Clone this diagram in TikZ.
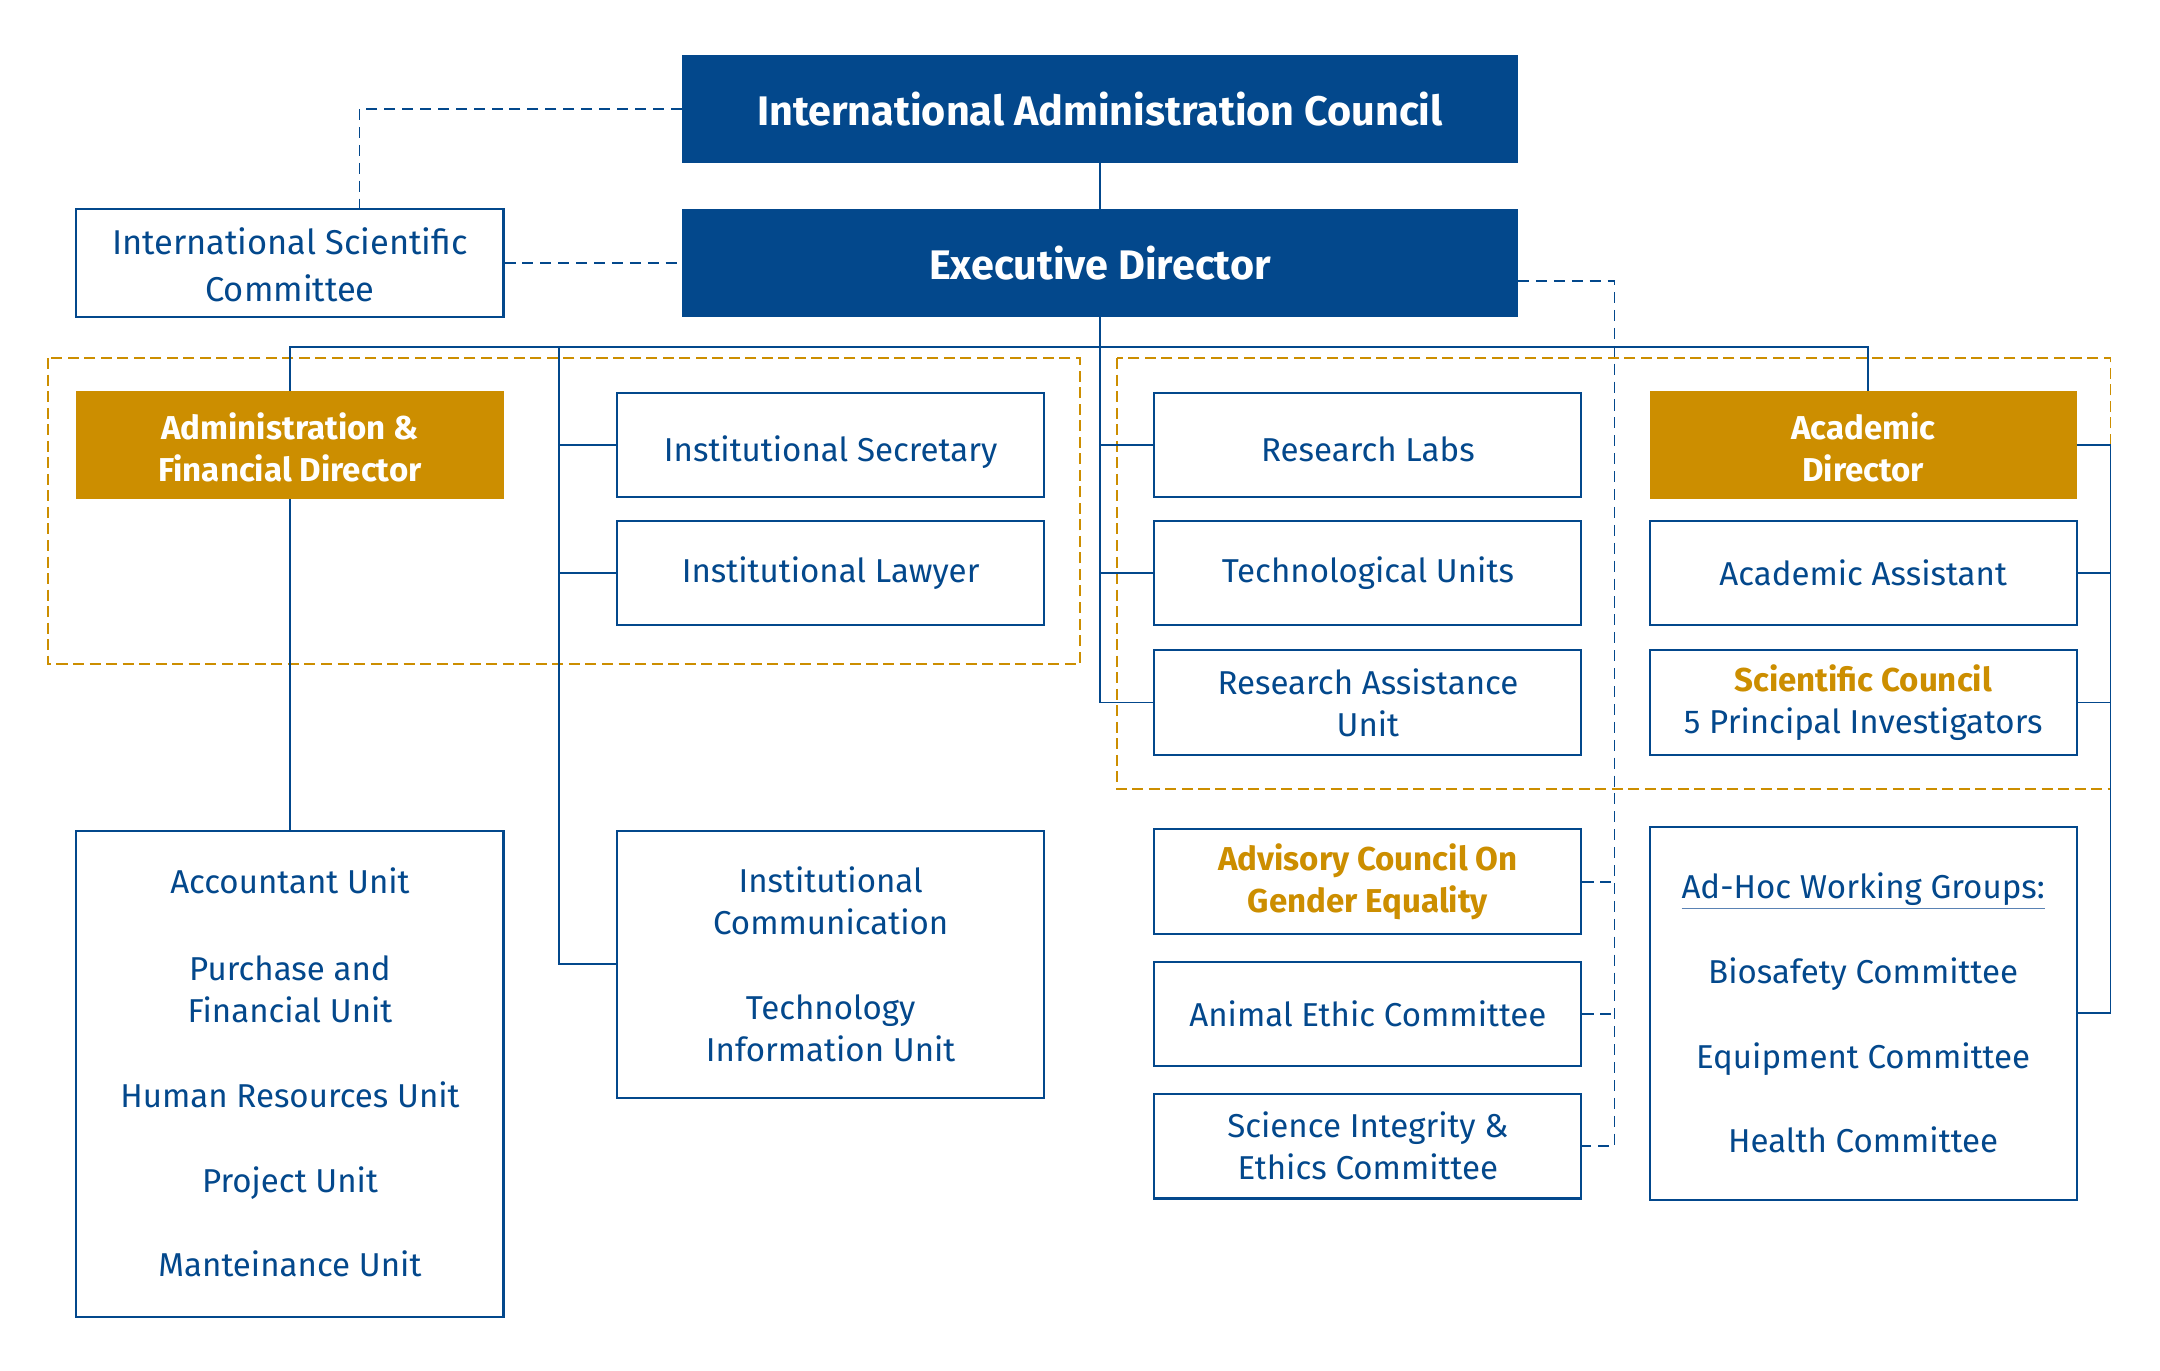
\documentclass[tikz,border=0pt]{standalone}
\usepackage{fontspec}
\setmainfont{Fira Sans}
\definecolor{navy}{RGB}{3,72,140}
\definecolor{gold}{RGB}{204,142,0}
\definecolor{ulblue}{RGB}{90,130,180}
\newcommand{\dropby}[2]{\raisebox{-#1}[\height][\depth]{#2}}
\begin{document}
\begin{tikzpicture}[x=1pt,y=-1pt,
  base/.style={rectangle, inner sep=0pt, align=center, font=\fontsize{24}{30.5}\selectfont},
  box/.style={base, draw=navy, line width=1.5pt, fill=white, text=navy},
  darkbox/.style={base, fill=navy, text=white, minimum width=607pt, minimum height=78pt, font=\fontsize{30}{36}\selectfont\bfseries},
  goldbox/.style={base, fill=gold, text=white, font=\fontsize{24}{30.5}\selectfont\bfseries},
  wide/.style={minimum width=310pt},
  wire/.style={draw=navy, line width=1.3pt},
  dwire/.style={draw=navy, line width=1.3pt, dash pattern=on 8pt off 5pt},
  frame/.style={draw=gold, line width=1.3pt, dash pattern=on 8pt off 4pt},
]
\useasboundingbox (0,0) rectangle (1568,995);
\fill[white] (0,0) rectangle (1568,995);

% group frames
\draw[frame] (35,260) rectangle (784,482);
\draw[frame] (811,260) rectangle (1532,573);

% top
\node[darkbox] (iac) at (798.5,79) {International Administration Council};
\node[darkbox] (ed) at (798.5,191) {Executive Director};
\node[box, wide, minimum height=78pt, font=\fontsize{25}{33}\selectfont] (isc) at (210.5,191) {\dropby{1pt}{International Scientific}\\\dropby{2pt}{Committee}};

% left column
\node[goldbox, wide, minimum height=78pt] (afd) at (210.5,323) {\dropby{2pt}{Administration \&}\\\dropby{2pt}{Financial Director}};
\node[box, wide, minimum height=353pt] (acc) at (210.5,779.5) {\dropby{-2pt}{Accountant Unit}\\[31pt]Purchase and\\Financial Unit\\[31pt]Human Resources Unit\\[31pt]Project Unit\\[31pt]Manteinance Unit};

% second column
\node[box, wide, minimum height=76pt] (isec) at (603,323) {\dropby{5pt}{Institutional Secretary}};
\node[box, wide, minimum height=76pt] (ilaw) at (603,416) {Institutional Lawyer};
\node[box, wide, minimum height=194pt] (icom) at (603,700) {Institutional\\Communication\\[31pt]Technology\\Information Unit};

% third column
\node[box, wide, minimum height=76pt] (rlab) at (993,323) {\dropby{3pt}{Research Labs}};
\node[box, wide, minimum height=76pt] (tech) at (993,416) {Technological Units};
\node[box, wide, minimum height=76pt] (rau) at (993,510) {Research Assistance\\Unit};
\node[box, wide, minimum height=76pt] (adv) at (993,640) {{\bfseries\color{gold}Advisory Council On}\\{\bfseries\color{gold}Gender Equality}};
\node[box, wide, minimum height=76pt] (animal) at (993,736) {Animal Ethic Committee};
\node[box, wide, minimum height=76pt] (sci) at (993,832) {Science Integrity \&\\Ethics Committee};

% fourth column
\node[goldbox, wide, minimum height=78pt] (acd) at (1352.5,323) {\dropby{2pt}{Academic}\\\dropby{2pt}{Director}};
\node[box, wide, minimum height=76pt] (aa) at (1352.5,416) {Academic Assistant};
\node[box, wide, minimum height=76pt] (sc) at (1352.5,510) {{\bfseries\color{gold}Scientific Council}\\5 Principal Investigators};
\node[box, wide, minimum height=271pt] (adhoc) at (1352.5,735.5) {{\color{ulblue}\underline{\color{navy}Ad-Hoc Working Groups:}}\\[31pt]Biosafety Committee\\[31pt]Equipment Committee\\[31pt]Health Committee};

% helper coordinates
\coordinate (bus) at (798.5,252);
\coordinate (lx) at (406,252);
\coordinate (acdTop) at (1356,284);
\coordinate (rx) at (1532,323);
\coordinate (iscA) at (261,152);
\coordinate (edR) at (1102,204);
\coordinate (dx) at (1172,204);

% solid connectors
\draw[wire] (iac.south) -- (ed.north);
\draw[wire] (afd.north) -- (afd.north |- bus) -- (acdTop |- bus) -- (acdTop);
\draw[wire] (ed.south) |- (rau.west);
\draw[wire] (ed.south |- rlab.west) -- (rlab.west);
\draw[wire] (ed.south |- tech.west) -- (tech.west);
\draw[wire] (lx) |- (icom.west);
\draw[wire] (lx |- isec.west) -- (isec.west);
\draw[wire] (lx |- ilaw.west) -- (ilaw.west);
\draw[wire] (afd.south) -- (acc.north);
\draw[wire] (acd.east) -- (rx) |- (adhoc.east);
\draw[wire] (aa.east) -- (aa.east -| rx);
\draw[wire] (sc.east) -- (sc.east -| rx);

% dashed connectors
\draw[dwire] (iac.west) -| (iscA);
\draw[dwire] (isc.east) -- (ed.west);
\draw[dwire] (edR) -- (dx) |- (sci.east);
\draw[dwire] (adv.east) -- (adv.east -| dx);
\draw[dwire] (animal.east) -- (animal.east -| dx);
\end{tikzpicture}
\end{document}
